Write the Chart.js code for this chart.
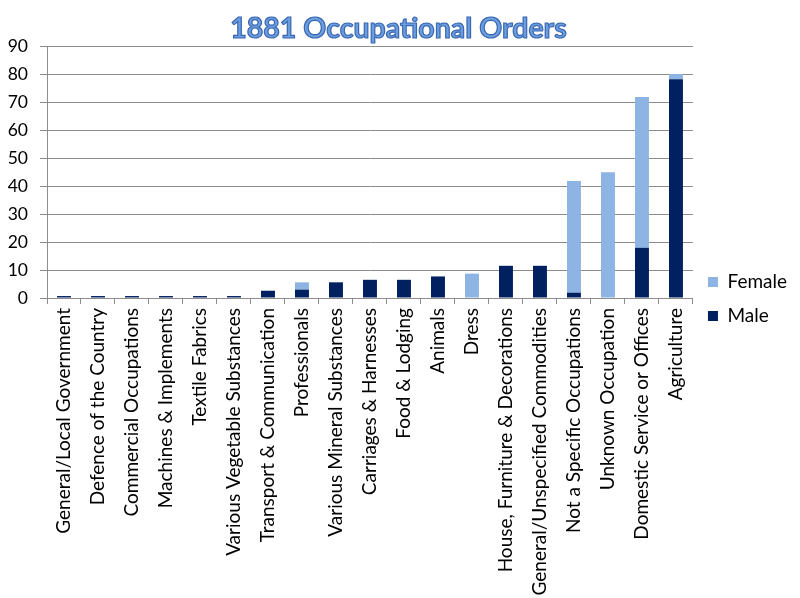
<!DOCTYPE html>
<html>
<head>
<meta charset="utf-8">
<script src="https://cdn.jsdelivr.net/npm/chart.js@4/dist/chart.umd.min.js"></script>
<style>
  html, body { margin: 0; padding: 0; background: #ffffff; }
  #wrap { width: 800px; height: 598px; position: relative; }
</style>
</head>
<body>
<div id="wrap"><canvas id="c" width="800" height="598"></canvas></div>
<script>
const categories = [
  "General/Local Government",
  "Defence of the Country",
  "Commercial Occupations",
  "Machines & Implements",
  "Textile Fabrics",
  "Various Vegetable Substances",
  "Transport & Communication",
  "Professionals",
  "Various Mineral Substances",
  "Carriages & Harnesses",
  "Food & Lodging",
  "Animals",
  "Dress",
  "House, Furniture & Decorations",
  "General/Unspecified Commodities",
  "Not a Specific Occupations",
  "Unknown Occupation",
  "Domestic Service or Offices",
  "Agriculture"
];
const maleValues   = [0.7, 0.7, 0.7, 0.7, 0.7, 0.7, 2.6, 3.0, 5.6, 6.5, 6.5, 7.7, 0, 11.5, 11.5, 1.9, 0, 17.9, 78.1];
const femaleValues = [0, 0, 0, 0, 0, 0, 0, 2.6, 0, 0, 0, 0, 8.7, 0, 0, 39.9, 44.9, 53.9, 1.9];
const yTicks = [0, 10, 20, 30, 40, 50, 60, 70, 80, 90];
const titleText = "1881 Occupational Orders";

const FONT = "Lato";
const GRID = "#8c8c8c";

const titleOutline = {
  id: "titleOutline",
  afterDraw(chart) {
    const tb = chart.titleBlock;
    if (!tb) return;
    const opts = chart.options.plugins.title;
    const ctx = chart.ctx;
    const size = opts.font.size;
    const lh = size * 1.2;
    const x = (tb.left + tb.right) / 2;
    const y = tb.top + opts.padding.top + lh / 2;
    ctx.save();
    ctx.font = "bold " + size + "px " + FONT;
    ctx.textAlign = "center";
    ctx.textBaseline = "middle";
    ctx.lineWidth = 1.2;
    ctx.strokeStyle = "#3a68b0";
    ctx.strokeText(titleText, x, y);
    ctx.restore();
  }
};

new Chart(document.getElementById("c"), {
  type: "bar",
  data: {
    labels: categories,
    datasets: [
      { label: "Male", data: maleValues, backgroundColor: "#002060", borderWidth: 0,
        barPercentage: 0.41, categoryPercentage: 1.0 },
      { label: "Female", data: femaleValues, backgroundColor: "#8db4e2", borderWidth: 0,
        barPercentage: 0.41, categoryPercentage: 1.0 }
    ]
  },
  options: {
    responsive: false,
    animation: false,
    devicePixelRatio: 1,
    layout: { padding: { left: 0, right: 3, top: 0, bottom: 0 } },
    plugins: {
      title: {
        display: true,
        text: titleText,
        color: "#6b9de0",
        font: { family: FONT, size: 28.5, weight: "bold" },
        padding: { top: 11.5, bottom: 0.3 }
      },
      legend: {
        display: true,
        position: "right",
        reverse: true,
        labels: {
          boxWidth: 10,
          boxHeight: 10,
          padding: 15,
          color: "#000000",
          font: { family: FONT, size: 19 }
        }
      },
      tooltip: { enabled: false }
    },
    scales: {
      x: {
        stacked: true,
        grid: { display: true, drawOnChartArea: false, drawTicks: true, tickLength: 6, color: GRID },
        border: { display: true, color: GRID },
        ticks: {
          autoSkip: false,
          maxRotation: 90,
          minRotation: 90,
          padding: 4,
          color: "#000000",
          font: { family: FONT, size: 19 }
        },
        afterFit(scale) { scale.height = 300; }
      },
      y: {
        stacked: true,
        min: 0,
        max: 90,
        afterBuildTicks(scale) { scale.ticks = yTicks.map(v => ({ value: v })); },
        grid: { display: true, color: GRID, tickLength: 7, drawTicks: true },
        border: { display: true, color: GRID },
        ticks: {
          padding: 12,
          color: "#000000",
          font: { family: FONT, size: 17.5 }
        },
        afterFit(scale) { scale.width = 47; }
      }
    }
  },
  plugins: [titleOutline]
});
</script>
</body>
</html>
